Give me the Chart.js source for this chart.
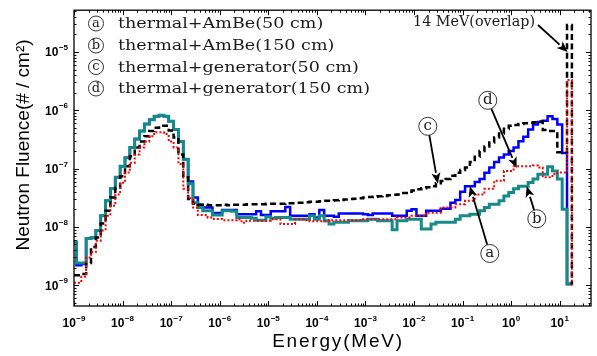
<!DOCTYPE html>
<html><head><meta charset="utf-8">
<script src="https://cdn.jsdelivr.net/npm/chart.js@4/dist/chart.umd.min.js"></script>
<style>html,body{margin:0;padding:0;background:#fff}canvas{display:block}</style>
</head><body>
<canvas id="c" width="597" height="356"></canvas>
<script>
// ---- data (bins: 10 per decade, centred at 10^(-9 + 0.1 n) MeV) ----
const seriesNames = ['thermal+AmBe(50 cm)', 'thermal+AmBe(150 cm)', 'thermal+generator(50 cm)', 'thermal+generator(150 cm)'];
const seriesLetters = ['a', 'b', 'c', 'd'];
const binLowEdges = Array.from({length: 104}, (_, i) => i === 0 ? 1e-9 : Math.pow(10, -9 + 0.1 * i - 0.05));

const ambe50 = [
 5.5e-9, 2.2e-9, 2.3e-9, 6.3e-9, 6.5e-9, 8.7e-9, 1.56e-8, 2.8e-8, 4.5e-8, 7.1e-8,
 1.1e-7, 1.54e-7, 2.3e-7, 3.2e-7, 4.4e-7, 5.8e-7, 6.9e-7, 7.9e-7, 8.2e-7, 7.9e-7,
 6.5e-7, 4.7e-7, 2.9e-7, 1.45e-7, 6.0e-8, 3.2e-8, 2.4e-8, 2.15e-8, 2.15e-8, 1.73e-8,
 1.73e-8, 1.95e-8, 1.95e-8, 1.95e-8, 1.65e-8, 1.65e-8, 1.65e-8, 1.65e-8, 1.85e-8, 1.6e-8,
 1.6e-8, 1.85e-8, 1.85e-8, 1.85e-8, 2.2e-8, 1.55e-8, 1.55e-8, 1.55e-8, 1.55e-8, 1.65e-8,
 1.45e-8, 1.95e-8, 1.55e-8, 1.55e-8, 1.5e-8, 1.7e-8, 1.7e-8, 1.7e-8, 1.7e-8, 1.7e-8,
 1.65e-8, 1.6e-8, 1.7e-8, 1.7e-8, 1.7e-8, 1.7e-8, 1.55e-8, 1.55e-8, 1.55e-8, 1.9e-8,
 2.0e-8, 1.55e-8, 1.55e-8, 1.9e-8, 1.9e-8, 1.9e-8, 2.05e-8, 2.05e-8, 2.6e-8, 2.9e-8,
 4.0e-8, 5.0e-8, 5.0e-8, 5.9e-8, 6.6e-8, 8.5e-8, 1.04e-7, 1.3e-7, 1.55e-7, 1.75e-7,
 2.0e-7, 2.3e-7, 2.95e-7, 3.5e-7, 4.7e-7, 5.7e-7, 6.3e-7, 6.6e-7, 7.9e-7, 7.1e-7,
 5.7e-7, 1.85e-7, 1.05e-9, 1.05e-9];

const ambe150 = [
 5.5e-9, 2.4e-9, 2.4e-9, 6.3e-9, 6.5e-9, 8.7e-9, 1.56e-8, 2.8e-8, 4.5e-8, 7.1e-8,
 1.1e-7, 1.54e-7, 2.3e-7, 3.2e-7, 4.4e-7, 5.8e-7, 6.9e-7, 7.9e-7, 8.2e-7, 7.9e-7,
 6.5e-7, 4.7e-7, 2.9e-7, 1.45e-7, 5.5e-8, 2.6e-8, 2.15e-8, 1.9e-8, 1.9e-8, 1.6e-8,
 1.6e-8, 1.9e-8, 1.9e-8, 1.85e-8, 1.45e-8, 1.45e-8, 1.45e-8, 1.4e-8, 1.3e-8, 1.3e-8,
 1.5e-8, 1.4e-8, 1.45e-8, 1.45e-8, 1.45e-8, 1.35e-8, 1.35e-8, 1.35e-8, 1.35e-8, 1.55e-8,
 1.35e-8, 1.55e-8, 1.28e-8, 1.12e-8, 1.2e-8, 1.2e-8, 1.2e-8, 1.28e-8, 1.28e-8, 1.28e-8,
 1.28e-8, 1.35e-8, 1.35e-8, 1.28e-8, 1.28e-8, 1.28e-8, 8.9e-9, 1.28e-8, 1.28e-8, 1.35e-8,
 1.35e-8, 1.35e-8, 9.2e-9, 9.2e-9, 1.12e-8, 1.2e-8, 1.2e-8, 1.2e-8, 1.2e-8, 1.35e-8,
 1.55e-8, 1.55e-8, 1.65e-8, 1.65e-8, 1.9e-8, 2.15e-8, 2.45e-8, 2.45e-8, 2.8e-8, 3.4e-8,
 3.9e-8, 4.5e-8, 5.0e-8, 5.0e-8, 5.8e-8, 6.6e-8, 8.0e-8, 8.0e-8, 1.07e-7, 9.1e-8,
 6.6e-8, 2.0e-8, 1.05e-9, 1.05e-9];

const gen50 = [
 1.48e-9, 1.48e-9, 1.55e-9, 2.4e-9, 4.5e-9, 6.6e-9, 1.14e-8, 1.9e-8, 3.2e-8, 4.7e-8,
 7.4e-8, 1.1e-7, 1.62e-7, 2.3e-7, 2.9e-7, 3.6e-7, 4.4e-7, 5.0e-7, 5.4e-7, 5.4e-7,
 4.5e-7, 3.4e-7, 1.75e-7, 7.1e-8, 3.0e-8, 2.5e-8, 2.4e-8, 2.4e-8, 2.35e-8, 2.35e-8,
 2.35e-8, 2.4e-8, 2.35e-8, 2.4e-8, 2.4e-8, 2.4e-8, 2.45e-8, 2.45e-8, 2.45e-8, 2.45e-8,
 2.5e-8, 2.5e-8, 2.5e-8, 2.5e-8, 2.55e-8, 2.55e-8, 2.6e-8, 2.6e-8, 2.65e-8, 2.7e-8,
 2.7e-8, 2.75e-8, 2.8e-8, 2.8e-8, 2.85e-8, 2.9e-8, 2.95e-8, 3.0e-8, 3.05e-8, 3.1e-8,
 3.2e-8, 3.25e-8, 3.3e-8, 3.35e-8, 3.4e-8, 3.5e-8, 3.55e-8, 3.6e-8, 3.8e-8, 4.0e-8,
 4.2e-8, 4.4e-8, 4.6e-8, 4.8e-8, 5.0e-8, 5.6e-8, 6.1e-8, 6.6e-8, 7.5e-8, 8.5e-8,
 9.5e-8, 1.04e-7, 1.3e-7, 1.6e-7, 2.0e-7, 2.4e-7, 2.8e-7, 3.4e-7, 4.0e-7, 4.8e-7,
 5.4e-7, 5.6e-7, 5.8e-7, 6.0e-7, 6.1e-7, 6.2e-7, 6.4e-7, 4.6e-7, 4.4e-7, 4.4e-7,
 1.9e-7, 1.9e-7, 2.9e-5, 1e-9];

const gen150 = [
 1.1e-9, 1.1e-9, 1.4e-9, 3.0e-9, 3.7e-9, 5.8e-9, 8.7e-9, 1.56e-8, 2.3e-8, 3.6e-8,
 5.7e-8, 8.6e-8, 1.26e-7, 1.74e-7, 2.3e-7, 2.9e-7, 3.6e-7, 4.2e-7, 4.2e-7, 3.9e-7,
 2.9e-7, 2.3e-7, 1.2e-7, 4.5e-8, 3.1e-8, 2.15e-8, 1.6e-8, 1.6e-8, 1.45e-8, 1.37e-8,
 1.37e-8, 1.3e-8, 1.3e-8, 1.3e-8, 1.35e-8, 1.18e-8, 1.28e-8, 1.28e-8, 1.28e-8, 1.28e-8,
 1.28e-8, 1.35e-8, 1.35e-8, 1.12e-8, 1.12e-8, 1.12e-8, 1.35e-8, 1.35e-8, 1.3e-8, 1.25e-8,
 1.25e-8, 1.25e-8, 1.25e-8, 1.3e-8, 1.3e-8, 1.3e-8, 1.3e-8, 1.3e-8, 1.3e-8, 1.3e-8,
 1.35e-8, 1.35e-8, 1.35e-8, 1.35e-8, 1.35e-8, 1.35e-8, 1.35e-8, 1.45e-8, 1.45e-8, 1.45e-8,
 1.55e-8, 1.55e-8, 1.55e-8, 1.75e-8, 1.75e-8, 1.75e-8, 2.15e-8, 2.15e-8, 2.15e-8, 2.45e-8,
 2.45e-8, 2.8e-8, 2.8e-8, 3.6e-8, 3.6e-8, 4.5e-8, 4.5e-8, 6.2e-8, 6.2e-8, 9.1e-8,
 9.1e-8, 1.1e-7, 1.1e-7, 1.1e-7, 1.1e-7, 1.13e-7, 1.04e-7, 7.1e-8, 7.1e-8, 8.1e-8,
 8.6e-8, 8.6e-8, 3.3e-6, 1e-9];

const xDecadeExps = [-9, -8, -7, -6, -5, -4, -3, -2, -1, 0, 1];
const yDecadeExps = [-10, -9, -8, -7, -6, -5];
const xMin = 1e-9, xMax = 44, yMin = 4.4e-10, yMax = 5.2e-5;

// callouts (annotation anchors, in data units)
const callouts = [
  {letter: 'a', circle: [0.363, 3.5e-9], tip: [0.141, 5.0e-8]},
  {letter: 'b', circle: [3.37, 1.38e-8], tip: [2.09, 5.0e-8]},
  {letter: 'c', circle: [0.0192, 5.3e-7], tip: [0.0309, 5.5e-8]},
  {letter: 'd', circle: [0.330, 1.48e-6], tip: [1.30, 1.02e-7]}
];
const overlapNote = {text: '14 MeV(overlap)', tip: [14.6, 1.0e-5]};

// ---- helpers ----
const isDecade = v => Math.abs(Math.log10(v) - Math.round(Math.log10(v))) < 1e-6;
function tickList(exps, lo, hi) {
  const out = [];
  exps.forEach(e => { for (let m = 1; m <= 9; m++) { const v = parseFloat(m + 'e' + e); if (v >= lo * 0.999 && v <= hi * 1.001) out.push({value: v}); } });
  return out;
}
const toPoints = vals => vals.map((v, i) => ({x: binLowEdges[i], y: v}));
const baseFont = 'bold 12px "Liberation Sans", Arial, sans-serif';
const expFont = 'bold 8px "Liberation Sans", Arial, sans-serif';
// draws "10" with a raised exponent; anchor = 'center' or 'right'
function powText(ctx, x, y, exp, anchor) {
  ctx.font = baseFont; const wb = ctx.measureText('10').width;
  ctx.font = expFont; const es = String(exp).replace('-', '\u2212'); const we = ctx.measureText(es).width;
  const total = wb + we + 0.5;
  const left = anchor === 'right' ? x - total : x - total / 2;
  ctx.textAlign = 'left'; ctx.textBaseline = 'middle';
  ctx.font = baseFont; ctx.fillText('10', left, y);
  ctx.font = expFont; ctx.fillText(es, left + wb + 0.5, y - 5);
}

// ---- decorations plugin ----
const deco = {
  id: 'deco',
  afterDraw(chart) {
    const {ctx, chartArea: a, scales: {x, y}} = chart;
    ctx.save();
    // inward ticks on all four sides
    ctx.strokeStyle = '#000'; ctx.lineWidth = 1;
    ctx.beginPath();
    x.ticks.forEach(t => {
      const p = Math.round(x.getPixelForValue(t.value)) + 0.5, L = isDecade(t.value) ? 5 : 2.5;
      ctx.moveTo(p, a.bottom); ctx.lineTo(p, a.bottom - L);
      ctx.moveTo(p, a.top); ctx.lineTo(p, a.top + L);
    });
    y.ticks.forEach(t => {
      const p = Math.round(y.getPixelForValue(t.value)) + 0.5, L = isDecade(t.value) ? 5 : 2.5;
      ctx.moveTo(a.left, p); ctx.lineTo(a.left + L, p);
      ctx.moveTo(a.right, p); ctx.lineTo(a.right - L, p);
    });
    ctx.stroke();
    ctx.lineWidth = 1.3;
    ctx.strokeRect(a.left, a.top, a.right - a.left, a.bottom - a.top);

    // tick labels (decades only), positioned by the scales
    ctx.fillStyle = '#000';
    x.ticks.filter(t => isDecade(t.value)).forEach(t =>
      powText(ctx, x.getPixelForValue(t.value), a.bottom + 18, Math.round(Math.log10(t.value)), 'center'));
    y.ticks.filter(t => isDecade(t.value)).forEach(t =>
      powText(ctx, a.left - 6, y.getPixelForValue(t.value) + 1, Math.round(Math.log10(t.value)), 'right'));

    // axis titles
    ctx.fillStyle = '#000';
    ctx.font = '19px "Liberation Sans", Arial, sans-serif';
    ctx.textAlign = 'center'; ctx.textBaseline = 'middle';
    ctx.save();
    ctx.translate(24, 145); ctx.rotate(-Math.PI / 2);
    ctx.fillText('Neutron Fluence(# / cm\u00B2)', 0, 0);
    ctx.restore();
    ctx.save();
    if ('letterSpacing' in ctx) ctx.letterSpacing = '1.8px';
    ctx.fillText('Energy(MeV)', 338, 342);
    ctx.restore();

    // legend (text only, circled letters)
    const serif = '15px "DejaVu Serif", "Liberation Serif", serif';
    ctx.font = serif;
    const sx = 252 / ctx.measureText(seriesNames[3]).width;
    const rows = [23.5, 45.5, 67, 88.5];
    seriesNames.forEach((name, i) => {
      circled(ctx, 96, rows[i], 7.5, seriesLetters[i]);
      ctx.save(); ctx.font = serif; ctx.fillStyle = '#1a1a1a';
      ctx.textAlign = 'left'; ctx.textBaseline = 'middle';
      ctx.translate(118, rows[i] + 1); ctx.scale(sx, 1);
      ctx.fillText(name, 0, 0); ctx.restore();
    });

    // callouts
    callouts.forEach(c => {
      const cx = x.getPixelForValue(c.circle[0]), cy = y.getPixelForValue(c.circle[1]);
      const tx = x.getPixelForValue(c.tip[0]), ty = y.getPixelForValue(c.tip[1]);
      const r = 9, d = Math.hypot(tx - cx, ty - cy);
      arrow(ctx, cx + (tx - cx) / d * r, cy + (ty - cy) / d * r, tx, ty);
      circled(ctx, cx, cy, r, c.letter);
    });

    // 14 MeV note
    ctx.save(); ctx.font = serif; ctx.fillStyle = '#1a1a1a';
    const sn = 122 / ctx.measureText(overlapNote.text).width;
    ctx.textAlign = 'right'; ctx.textBaseline = 'middle';
    ctx.translate(535, 22); ctx.scale(sn, 1);
    ctx.fillText(overlapNote.text, 0, 0); ctx.restore();
    arrow(ctx, 538, 25, x.getPixelForValue(overlapNote.tip[0]), y.getPixelForValue(overlapNote.tip[1]));
    ctx.restore();
  }
};
function circled(ctx, cx, cy, r, letter) {
  ctx.save();
  ctx.fillStyle = '#fff'; ctx.strokeStyle = '#333'; ctx.lineWidth = 1;
  ctx.beginPath(); ctx.arc(cx, cy, r, 0, Math.PI * 2); ctx.fill(); ctx.stroke();
  ctx.fillStyle = '#1a1a1a'; ctx.font = (r > 8 ? 15 : 13) + 'px "DejaVu Serif", "Liberation Serif", serif';
  ctx.textAlign = 'center'; ctx.textBaseline = 'middle';
  ctx.fillText(letter, cx, cy);
  ctx.restore();
}
function arrow(ctx, x0, y0, x1, y1) {
  const ang = Math.atan2(y1 - y0, x1 - x0), len = 11, hw = 4.5;
  const bx = x1 - Math.cos(ang) * len, by = y1 - Math.sin(ang) * len;
  ctx.save();
  ctx.strokeStyle = '#000'; ctx.fillStyle = '#000'; ctx.lineWidth = 1.8;
  ctx.beginPath(); ctx.moveTo(x0, y0); ctx.lineTo(bx, by); ctx.stroke();
  ctx.beginPath();
  ctx.moveTo(x1, y1);
  ctx.lineTo(bx + Math.sin(ang) * hw, by - Math.cos(ang) * hw);
  ctx.lineTo(x1 - Math.cos(ang) * len * 0.75, y1 - Math.sin(ang) * len * 0.75);
  ctx.lineTo(bx - Math.sin(ang) * hw, by + Math.cos(ang) * hw);
  ctx.closePath(); ctx.fill();
  ctx.restore();
}

new Chart(document.getElementById('c'), {
  type: 'line',
  data: {
    datasets: [
      {label: seriesNames[3], data: toPoints(gen150), borderColor: '#ff0000', borderWidth: 2, borderDash: [2, 2]},
      {label: seriesNames[2], data: toPoints(gen50), borderColor: '#000000', borderWidth: 2.5, borderDash: [6, 3.5]},
      {label: seriesNames[1], data: toPoints(ambe150), borderColor: '#168a8a', borderWidth: 3},
      {label: seriesNames[0], data: toPoints(ambe50), borderColor: '#0000ff', borderWidth: 2.5}
    ].map(d => Object.assign(d, {stepped: true, pointRadius: 0, fill: false, tension: 0}))
  },
  options: {
    responsive: false, animation: false,
    layout: {padding: {top: 7, right: 6, left: 0, bottom: 0}},
    plugins: {legend: {display: false}, tooltip: {enabled: false}},
    scales: {
      x: {
        type: 'logarithmic', min: xMin, max: xMax,
        afterBuildTicks: s => { s.ticks = tickList(xDecadeExps, xMin, xMax); },
        afterFit: s => { s.height = 50; },
        grid: {display: false}, border: {display: false},
        ticks: {autoSkip: false, maxRotation: 0, minRotation: 0, callback: () => ''}
      },
      y: {
        type: 'logarithmic', min: yMin, max: yMax,
        afterBuildTicks: s => { s.ticks = tickList(yDecadeExps, yMin, yMax); },
        afterFit: s => { s.width = 74; },
        grid: {display: false}, border: {display: false},
        ticks: {autoSkip: false, callback: () => ''}
      }
    }
  },
  plugins: [deco]
});
</script>
</body></html>
